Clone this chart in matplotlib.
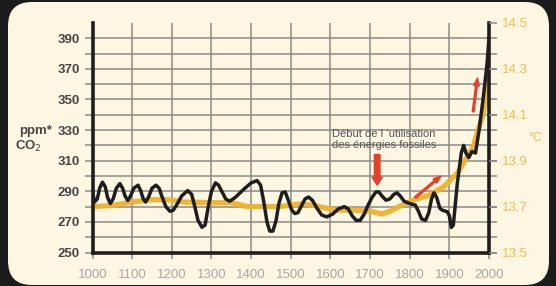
import matplotlib
matplotlib.use("Agg")
import matplotlib.pyplot as plt
from matplotlib.patches import FancyBboxPatch
from matplotlib.transforms import IdentityTransform

# ---------------- data ----------------
co2_years = [1000, 1005, 1012, 1018, 1025, 1032, 1038, 1045, 1052, 1060, 1069, 1076,
             1082, 1089, 1096, 1104, 1115, 1122, 1128, 1134, 1141, 1150, 1160, 1168,
             1176, 1185, 1195, 1203, 1212, 1225, 1240, 1250, 1258, 1266, 1276, 1284,
             1292, 1300, 1310, 1318, 1326, 1336, 1346, 1360, 1380, 1400, 1415, 1424,
             1432, 1440, 1447, 1455, 1463, 1470, 1478, 1486, 1494, 1502, 1510, 1518,
             1526, 1536, 1545, 1555, 1566, 1578, 1591, 1605, 1620, 1635, 1645, 1655,
             1665, 1675, 1685, 1695, 1705, 1715, 1722, 1730, 1740, 1750, 1760, 1768,
             1776, 1786, 1800, 1814, 1822, 1830, 1840, 1848, 1855, 1861, 1868, 1876,
             1882, 1895, 1900, 1905, 1910, 1920, 1930, 1936, 1942, 1949, 1957, 1966,
             1975, 1985, 1995, 2000]
co2_ppm = [290, 283, 285, 292, 296, 293, 286, 282, 285, 292, 295, 292,
           287, 284, 287, 292, 294, 290, 285, 283, 286, 292, 294, 292,
           286, 280, 277, 277.5, 281, 287, 290.5, 288, 280, 271, 266.5, 268,
           280, 290, 295.5, 294, 290, 285, 283.5, 286, 291, 295.5, 297, 294,
           283, 270, 264, 264, 271, 282, 289, 289.6, 284, 278, 275.5, 276,
           280, 285, 286.3, 284, 279, 274.5, 273.3, 275, 278.5, 280, 278.5, 274,
           271, 271, 275, 281, 286, 289.6, 289.6, 287, 284.2, 285, 288, 289,
           287, 283.5, 282, 281, 277, 272, 271, 276, 285, 289, 286, 279,
           277.7, 276.6, 274, 266.4, 268, 295, 315, 320, 315, 312, 316, 315,
           330, 350, 373, 390]

temp_years = [1000, 1050, 1100, 1150, 1190, 1230, 1300, 1350, 1390, 1470, 1527,
              1560, 1610, 1650, 1700, 1730, 1750, 1770, 1810, 1850, 1886, 1920,
              1945, 1960, 1970, 1985, 1995, 2000]
temp_c = [13.70, 13.705, 13.72, 13.73, 13.73, 13.72, 13.717, 13.717, 13.70, 13.70, 13.712,
          13.705, 13.685, 13.685, 13.68, 13.668, 13.68, 13.697, 13.729, 13.75, 13.787, 13.845,
          13.917, 13.96, 14.02, 14.10, 14.22, 14.30]

x_ticks = list(range(1000, 2001, 100))
ppm_ticks = list(range(250, 391, 20))
ppm_minor = list(range(260, 400, 10))
temp_ticks = [13.5, 13.7, 13.9, 14.1, 14.3, 14.5]

annotation_text = "Début de l \u2019utilisation\ndes énergies fossiles"

# ---------------- style ----------------
DARK = "#1b1b1b"
CREAM = "#fcf6e3"
GRID = "#8d8a85"
ORANGE = "#f0b22c"
ORANGE_TXT = "#f3bd4a"
RED = "#e4402a"
BLACK = "#1e1e1e"
LABEL = "#454545"
XLAB = "#a7a7a7"

plt.rcParams["font.family"] = ["Liberation Sans", "DejaVu Sans"]

fig = plt.figure(figsize=(5.56, 2.86), dpi=100)
fig.patch.set_facecolor(DARK)
panel = FancyBboxPatch((8, 1), 541, 283, boxstyle="round,pad=0,rounding_size=24",
                       transform=IdentityTransform(), facecolor=CREAM, edgecolor="none",
                       zorder=-10)
fig.patches.append(panel)

ax = fig.add_axes([0.1664, 0.117, 0.7131, 0.8028])
ax2 = ax.twinx()
ax.set_facecolor("none")
ax2.set_facecolor("none")

ax.set_xlim(1000, 2000)
ax.set_ylim(250, 400)
ax2.set_ylim(13.5, 14.5)

ax.set_xticks(x_ticks)
ax.set_yticks(ppm_ticks)
ax.set_yticks(ppm_minor, minor=True)
ax2.set_yticks(temp_ticks)
ax2.set_yticklabels([f"{t:.1f}" for t in temp_ticks])

ax.grid(True, which="both", axis="y", color=GRID, lw=1.1, zorder=0.5)
ax.grid(True, which="major", axis="x", color=GRID, lw=1.1, zorder=0.5)
ax.set_axisbelow(True)

# orange temperature line drawn in ax (for layering) using ax2's scale
ax.plot(temp_years, temp_c, color=ORANGE, lw=3.8, alpha=0.95, solid_capstyle="round",
        transform=ax2.transData, zorder=2)
ax.plot(co2_years, co2_ppm, color=BLACK, lw=2.5, solid_joinstyle="round", zorder=3)

ax.spines["top"].set_visible(False)
for s in ["left", "right", "bottom"]:
    ax.spines[s].set_color(BLACK)
    ax.spines[s].set_linewidth(2.6)
    ax.spines[s].set_zorder(4)
for s in ax2.spines.values():
    s.set_visible(False)

ax.tick_params(axis="y", which="both", left=True, right=True, length=6, width=1.1,
               color=GRID, labelright=False)
ax.tick_params(axis="y", which="major", labelsize=9.5, labelcolor=LABEL, pad=3)
for lab in ax.get_yticklabels():
    lab.set_fontweight("bold")
ax.tick_params(axis="x", length=4, width=1.1, color=GRID, labelsize=9.5,
               labelcolor=XLAB, pad=8)
ax2.tick_params(axis="y", length=6, width=1.1, color=GRID, labelsize=9.5,
                labelcolor=ORANGE_TXT, pad=3)

# side labels
fig.text(36 / 556, 1 - 131 / 286, "ppm*", ha="center", va="center", fontsize=9.5,
         fontweight="bold", color=LABEL)
fig.text(28 / 556, 1 - 146 / 286, "CO$_2$", ha="center", va="center", fontsize=9.5,
         fontweight="bold", color=LABEL)
fig.text(535 / 556, 1 - 138 / 286, "°C", ha="center", va="center", fontsize=9,
         color=ORANGE_TXT)

# annotation and arrows
ax.text(1735, 324, annotation_text, ha="center", va="center", fontsize=8,
        color="#555555", linespacing=1.1, zorder=5)
ax.annotate("", xy=(1718, 294), xytext=(1718, 314),
            arrowprops=dict(arrowstyle="simple,head_length=0.7,head_width=0.9,tail_width=0.5",
                            color=RED, mutation_scale=8, shrinkA=0, shrinkB=0), zorder=5)
ax.annotate("", xy=(1879, 300), xytext=(1814, 286),
            arrowprops=dict(arrowstyle="simple,head_length=0.7,head_width=0.5,tail_width=0.16",
                            color=RED, mutation_scale=8, shrinkA=0, shrinkB=0), zorder=5)
ax.annotate("", xy=(1971, 364), xytext=(1960, 342),
            arrowprops=dict(arrowstyle="simple,head_length=0.7,head_width=0.5,tail_width=0.16",
                            color=RED, mutation_scale=8, shrinkA=0, shrinkB=0), zorder=5)

fig.savefig("out.png", dpi=100, facecolor=fig.get_facecolor())
